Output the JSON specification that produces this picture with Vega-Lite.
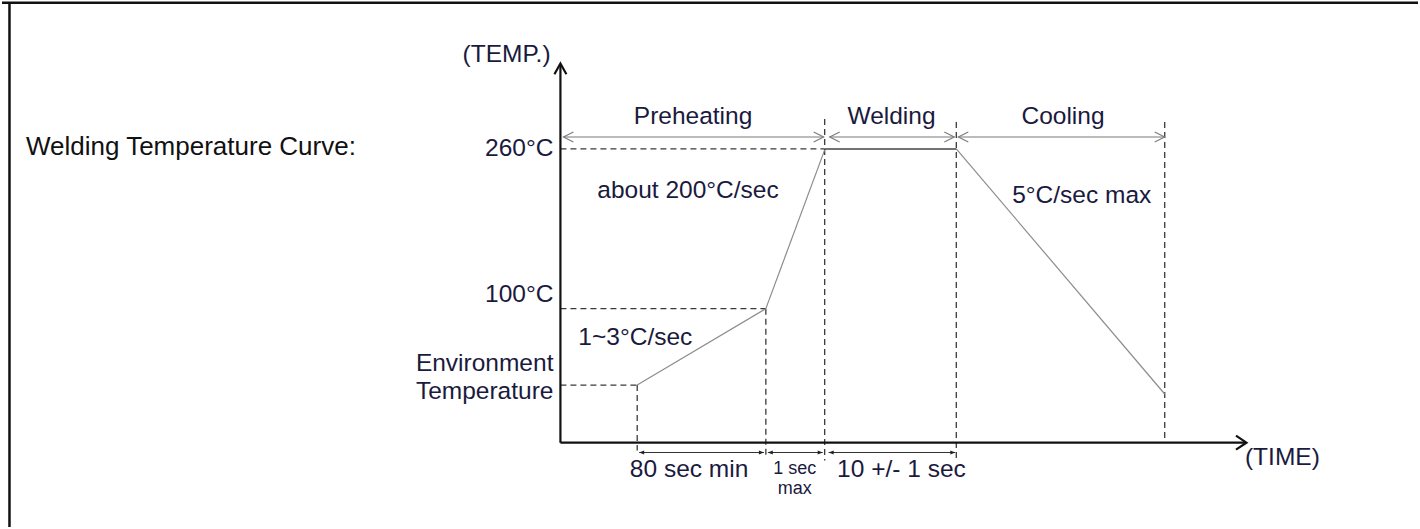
{
  "$schema": "https://vega.github.io/schema/vega-lite/v6.json",
  "width": 1420,
  "height": 529,
  "padding": 0,
  "autosize": {"type": "fit", "contains": "padding"},
  "background": "white",
  "config": {"view": {"stroke": null}},
  "datasets": {
    "segs": [
      {"kind": "border", "x": -552.5, "y": 408, "x2": -552.5, "y2": -121},
      {"kind": "border", "x": -560, "y": 407.2, "x2": 860, "y2": 407.2},
      {"kind": "axis", "x": 0, "y": -36, "x2": 0, "y2": 345},
      {"kind": "axis", "x": 0, "y": -36, "x2": 687, "y2": -36},
      {"kind": "curve", "x": 77, "y": 22, "x2": 206, "y2": 99},
      {"kind": "curve", "x": 206, "y": 99, "x2": 265, "y2": 259},
      {"kind": "plateau", "x": 265, "y": 260, "x2": 397, "y2": 260},
      {"kind": "curve", "x": 397, "y": 260, "x2": 606, "y2": 13},
      {"kind": "dash", "x": 0, "y": 260, "x2": 265, "y2": 260},
      {"kind": "dash", "x": 0, "y": 99, "x2": 206, "y2": 99},
      {"kind": "dash", "x": 0, "y": 22, "x2": 77, "y2": 22},
      {"kind": "dash", "x": 77, "y": 22, "x2": 77, "y2": -44},
      {"kind": "dash", "x": 206, "y": 99, "x2": 206, "y2": -50},
      {"kind": "dash", "x": 265, "y": 290, "x2": 265, "y2": -54},
      {"kind": "dash", "x": 397, "y": 287, "x2": 397, "y2": -52},
      {"kind": "dash", "x": 606, "y": 287, "x2": 606, "y2": -36},
      {"kind": "dim", "x": 3, "y": 272, "x2": 264, "y2": 272},
      {"kind": "dim", "x": 270, "y": 272, "x2": 395, "y2": 272},
      {"kind": "dim", "x": 399, "y": 272, "x2": 606, "y2": 272},
      {"kind": "span", "x": 79, "y": -46, "x2": 204, "y2": -46},
      {"kind": "span", "x": 208, "y": -46, "x2": 263, "y2": -46},
      {"kind": "span", "x": 269, "y": -46, "x2": 396, "y2": -46}
    ],
    "heads": [
      {"kind": "up", "x": 0, "y": 346},
      {"kind": "right", "x": 688, "y": -36},
      {"kind": "dimL", "x": 3, "y": 272},
      {"kind": "dimR", "x": 264, "y": 272},
      {"kind": "dimL", "x": 270, "y": 272},
      {"kind": "dimR", "x": 395, "y": 272},
      {"kind": "dimL", "x": 399, "y": 272},
      {"kind": "dimR", "x": 606, "y": 272},
      {"kind": "spanL", "x": 79, "y": -46},
      {"kind": "spanR", "x": 204, "y": -46},
      {"kind": "spanL", "x": 208, "y": -46},
      {"kind": "spanR", "x": 263, "y": -46},
      {"kind": "spanL", "x": 269, "y": -46},
      {"kind": "spanR", "x": 396, "y": -46}
    ],
    "labels": [
      {"kind": "t", "x": -536, "y": 262, "text": "Welding Temperature Curve:"},
      {"kind": "c", "x": -54, "y": 355, "text": "(TEMP.)"},
      {"kind": "c", "x": 133, "y": 292, "text": "Preheating"},
      {"kind": "c", "x": 332, "y": 292, "text": "Welding"},
      {"kind": "c", "x": 504, "y": 292, "text": "Cooling"},
      {"kind": "r", "x": -7, "y": 260, "text": "260°C"},
      {"kind": "l", "x": 37, "y": 218, "text": "about 200°C/sec"},
      {"kind": "l", "x": 453, "y": 213, "text": "5°C/sec max"},
      {"kind": "r", "x": -7, "y": 113, "text": "100°C"},
      {"kind": "l", "x": 18, "y": 69, "text": "1~3°C/sec"},
      {"kind": "r", "x": -7, "y": 43, "text": "Environment"},
      {"kind": "r", "x": -7, "y": 15, "text": "Temperature"},
      {"kind": "c", "x": 129, "y": -64, "text": "80 sec min"},
      {"kind": "s", "x": 235, "y": -63, "text": "1 sec"},
      {"kind": "s", "x": 235, "y": -83, "text": "max"},
      {"kind": "c", "x": 342, "y": -64, "text": "10 +/- 1 sec"},
      {"kind": "c", "x": 724, "y": -51, "text": "(TIME)"}
    ]
  },
  "layer": [
    {
      "data": {"name": "segs"},
      "transform": [{"filter": "datum.kind === 'border'"}],
      "mark": {"type": "rule", "color": "#111111", "strokeWidth": 2.5},
      "encoding": {
        "x": {"field": "x", "type": "quantitative", "scale": {"domain": [-560, 860], "nice": false, "zero": false}, "axis": null},
        "y": {"field": "y", "type": "quantitative", "scale": {"domain": [-121, 408], "nice": false, "zero": false}, "axis": null},
        "x2": {"field": "x2"},
        "y2": {"field": "y2"}
      }
    },
    {
      "data": {"name": "segs"},
      "transform": [{"filter": "datum.kind === 'dash'"}],
      "mark": {"type": "rule", "color": "#3a3a3a", "strokeWidth": 1.3, "strokeDash": [6, 4]},
      "encoding": {
        "x": {"field": "x", "type": "quantitative", "axis": null},
        "y": {"field": "y", "type": "quantitative", "axis": null},
        "x2": {"field": "x2"},
        "y2": {"field": "y2"}
      }
    },
    {
      "data": {"name": "segs"},
      "transform": [{"filter": "datum.kind === 'curve'"}],
      "mark": {"type": "rule", "color": "#8c8c8c", "strokeWidth": 1.2},
      "encoding": {
        "x": {"field": "x", "type": "quantitative", "axis": null},
        "y": {"field": "y", "type": "quantitative", "axis": null},
        "x2": {"field": "x2"},
        "y2": {"field": "y2"}
      }
    },
    {
      "data": {"name": "segs"},
      "transform": [{"filter": "datum.kind === 'plateau'"}],
      "mark": {"type": "rule", "color": "#444444", "strokeWidth": 1.5},
      "encoding": {
        "x": {"field": "x", "type": "quantitative", "axis": null},
        "y": {"field": "y", "type": "quantitative", "axis": null},
        "x2": {"field": "x2"},
        "y2": {"field": "y2"}
      }
    },
    {
      "data": {"name": "segs"},
      "transform": [{"filter": "datum.kind === 'dim'"}],
      "mark": {"type": "rule", "color": "#7a7a7a", "strokeWidth": 1.1},
      "encoding": {
        "x": {"field": "x", "type": "quantitative", "axis": null},
        "y": {"field": "y", "type": "quantitative", "axis": null},
        "x2": {"field": "x2"},
        "y2": {"field": "y2"}
      }
    },
    {
      "data": {"name": "segs"},
      "transform": [{"filter": "datum.kind === 'span'"}],
      "mark": {"type": "rule", "color": "#333333", "strokeWidth": 1.1},
      "encoding": {
        "x": {"field": "x", "type": "quantitative", "axis": null},
        "y": {"field": "y", "type": "quantitative", "axis": null},
        "x2": {"field": "x2"},
        "y2": {"field": "y2"}
      }
    },
    {
      "data": {"name": "segs"},
      "transform": [{"filter": "datum.kind === 'axis'"}],
      "mark": {"type": "rule", "color": "#111111", "strokeWidth": 2.2},
      "encoding": {
        "x": {"field": "x", "type": "quantitative", "axis": null},
        "y": {"field": "y", "type": "quantitative", "axis": null},
        "x2": {"field": "x2"},
        "y2": {"field": "y2"}
      }
    },
    {
      "data": {"name": "heads"},
      "transform": [{"filter": "datum.kind === 'up'"}],
      "mark": {"type": "point", "shape": "M-1,1.8L0,0L1,1.8", "size": 144, "filled": false, "color": "#111111", "strokeWidth": 2.2, "opacity": 1},
      "encoding": {
        "x": {"field": "x", "type": "quantitative", "axis": null},
        "y": {"field": "y", "type": "quantitative", "axis": null}
      }
    },
    {
      "data": {"name": "heads"},
      "transform": [{"filter": "datum.kind === 'right'"}],
      "mark": {"type": "point", "shape": "M-1.5,-1L0,0L-1.5,1", "size": 196, "filled": false, "color": "#111111", "strokeWidth": 2.2, "opacity": 1},
      "encoding": {
        "x": {"field": "x", "type": "quantitative", "axis": null},
        "y": {"field": "y", "type": "quantitative", "axis": null}
      }
    },
    {
      "data": {"name": "heads"},
      "transform": [{"filter": "datum.kind === 'dimL'"}],
      "mark": {"type": "point", "shape": "M2,-1L0,0L2,1", "size": 100, "filled": false, "color": "#7a7a7a", "strokeWidth": 1.1, "opacity": 1},
      "encoding": {
        "x": {"field": "x", "type": "quantitative", "axis": null},
        "y": {"field": "y", "type": "quantitative", "axis": null}
      }
    },
    {
      "data": {"name": "heads"},
      "transform": [{"filter": "datum.kind === 'dimR'"}],
      "mark": {"type": "point", "shape": "M-2,-1L0,0L-2,1", "size": 100, "filled": false, "color": "#7a7a7a", "strokeWidth": 1.1, "opacity": 1},
      "encoding": {
        "x": {"field": "x", "type": "quantitative", "axis": null},
        "y": {"field": "y", "type": "quantitative", "axis": null}
      }
    },
    {
      "data": {"name": "heads"},
      "transform": [{"filter": "datum.kind === 'spanL'"}],
      "mark": {"type": "point", "shape": "M0,0L2.5,-1L2.5,1Z", "size": 16, "filled": true, "color": "#222222", "opacity": 1},
      "encoding": {
        "x": {"field": "x", "type": "quantitative", "axis": null},
        "y": {"field": "y", "type": "quantitative", "axis": null}
      }
    },
    {
      "data": {"name": "heads"},
      "transform": [{"filter": "datum.kind === 'spanR'"}],
      "mark": {"type": "point", "shape": "M0,0L-2.5,-1L-2.5,1Z", "size": 16, "filled": true, "color": "#222222", "opacity": 1},
      "encoding": {
        "x": {"field": "x", "type": "quantitative", "axis": null},
        "y": {"field": "y", "type": "quantitative", "axis": null}
      }
    },
    {
      "data": {"name": "labels"},
      "transform": [{"filter": "datum.kind === 't'"}],
      "mark": {"type": "text", "align": "left", "baseline": "middle", "font": "Liberation Sans", "fontSize": 26, "color": "#111111"},
      "encoding": {
        "x": {"field": "x", "type": "quantitative", "axis": null},
        "y": {"field": "y", "type": "quantitative", "axis": null},
        "text": {"field": "text"}
      }
    },
    {
      "data": {"name": "labels"},
      "transform": [{"filter": "datum.kind === 'c'"}],
      "mark": {"type": "text", "align": "center", "baseline": "middle", "font": "Liberation Sans", "fontSize": 24.5, "color": "#1a1a3e"},
      "encoding": {
        "x": {"field": "x", "type": "quantitative", "axis": null},
        "y": {"field": "y", "type": "quantitative", "axis": null},
        "text": {"field": "text"}
      }
    },
    {
      "data": {"name": "labels"},
      "transform": [{"filter": "datum.kind === 'l'"}],
      "mark": {"type": "text", "align": "left", "baseline": "middle", "font": "Liberation Sans", "fontSize": 24.5, "color": "#1a1a3e"},
      "encoding": {
        "x": {"field": "x", "type": "quantitative", "axis": null},
        "y": {"field": "y", "type": "quantitative", "axis": null},
        "text": {"field": "text"}
      }
    },
    {
      "data": {"name": "labels"},
      "transform": [{"filter": "datum.kind === 'r'"}],
      "mark": {"type": "text", "align": "right", "baseline": "middle", "font": "Liberation Sans", "fontSize": 24.5, "color": "#1a1a3e"},
      "encoding": {
        "x": {"field": "x", "type": "quantitative", "axis": null},
        "y": {"field": "y", "type": "quantitative", "axis": null},
        "text": {"field": "text"}
      }
    },
    {
      "data": {"name": "labels"},
      "transform": [{"filter": "datum.kind === 's'"}],
      "mark": {"type": "text", "align": "center", "baseline": "middle", "font": "Liberation Sans", "fontSize": 18, "color": "#1a1a3e"},
      "encoding": {
        "x": {"field": "x", "type": "quantitative", "axis": null},
        "y": {"field": "y", "type": "quantitative", "axis": null},
        "text": {"field": "text"}
      }
    }
  ]
}
